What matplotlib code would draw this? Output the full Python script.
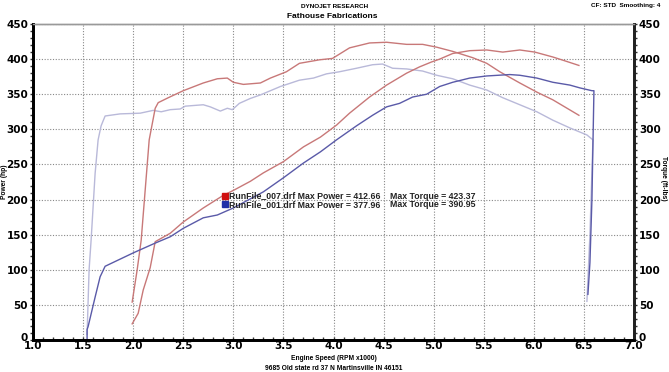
import numpy as np
import matplotlib
matplotlib.use('Agg')
import matplotlib.pyplot as plt
import matplotlib.transforms as mtransforms
from matplotlib.ticker import MultipleLocator

# RunFile_007 (red) power and torque vs engine speed (RPM x1000)
red_pwr_rpm = [1.99, 2.05, 2.10, 2.17, 2.22, 2.37, 2.50, 2.70, 2.90, 3.00, 3.17, 3.30, 3.50, 3.70,
               3.87, 4.03, 4.16, 4.36, 4.53, 4.73, 4.86, 4.98, 5.06, 5.19, 5.36, 5.53, 5.69,
               5.86, 6.01, 6.19, 6.30, 6.45]
red_pwr_hp = [23, 38, 71, 103, 140, 152, 168, 188, 206, 213, 226, 238, 254, 275,
              289, 306, 323, 346, 363, 380, 389, 396, 400, 408, 412, 413, 410,
              413, 410, 403, 398, 391]
red_trq_rpm = [1.99, 2.04, 2.08, 2.16, 2.22, 2.25, 2.35, 2.50, 2.70, 2.84, 2.94, 3.00, 3.10, 3.27,
               3.37, 3.53, 3.66, 3.86, 3.99, 4.16, 4.36, 4.53, 4.73, 4.89, 5.03, 5.19, 5.39,
               5.53, 5.66, 5.86, 6.03, 6.19, 6.45]
red_trq_ftlb = [54, 100, 142, 285, 330, 338, 345, 355, 366, 372, 373, 367, 364, 366,
                373, 382, 394, 399, 401, 416, 423, 424, 421, 421, 417, 411, 402,
                394, 382, 366, 353, 342, 320]

# RunFile_001 (blue) power and torque
blu_pwr_rpm = [1.54, 1.54, 1.55, 1.62, 1.67, 1.72, 2.00, 2.22, 2.37, 2.50, 2.70, 2.84, 3.00, 3.30,
               3.50, 3.70, 3.87, 4.03, 4.23, 4.39, 4.53, 4.66, 4.79, 4.93, 5.06, 5.19, 5.36,
               5.53, 5.76, 5.86, 6.03, 6.19, 6.36, 6.46, 6.58, 6.60, 6.58, 6.56, 6.54]
blu_pwr_hp = [1, 15, 19, 61, 90, 105, 124, 138, 147, 159, 174, 178, 188, 211,
              231, 252, 268, 285, 305, 320, 332, 337, 346, 350, 361, 367, 373,
              376, 378, 377, 373, 367, 363, 359, 355, 355, 200, 110, 65]
blu_trq_rpm = [1.54, 1.56, 1.58, 1.62, 1.65, 1.68, 1.72, 1.87, 2.07, 2.20, 2.28, 2.37, 2.47, 2.52,
               2.70, 2.77, 2.87, 2.94, 2.99, 3.06, 3.17, 3.27, 3.47, 3.66, 3.80, 3.93, 4.06,
               4.23, 4.39, 4.49, 4.59, 4.73, 4.89, 5.03, 5.19, 5.36, 5.53, 5.69, 5.86, 6.03,
               6.19, 6.36, 6.53, 6.59, 6.56, 6.53]
blu_trq_ftlb = [8, 100, 142, 237, 285, 305, 319, 322, 323, 327, 325, 328, 329, 333,
                335, 332, 326, 330, 328, 337, 344, 349, 361, 370, 373, 379, 382,
                387, 392, 393, 387, 386, 383, 377, 372, 363, 356, 345, 335, 325,
                313, 302, 292, 285, 150, 55]

x_ticks = [1.0, 1.5, 2.0, 2.5, 3.0, 3.5, 4.0, 4.5, 5.0, 5.5, 6.0, 6.5, 7.0]
y_ticks = [0, 50, 100, 150, 200, 250, 300, 350, 400, 450]

fig = plt.figure(figsize=(6.69, 3.72), dpi=100)
ax = fig.add_axes([33 / 669, 32 / 372, 601 / 669, 316 / 372])

ax.plot(blu_trq_rpm, blu_trq_ftlb, color='#b9b9d9', lw=1.0)
ax.plot(red_trq_rpm, red_trq_ftlb, color='#c87878', lw=1.0)
ax.plot(red_pwr_rpm, red_pwr_hp, color='#c87878', lw=1.0)
ax.plot(blu_pwr_rpm, blu_pwr_hp, color='#5a5aa8', lw=1.0)

tick_font = dict(fontsize=7.5, fontweight='bold')
ax.set_xlim(1.0, 7.0)
ax.set_ylim(0, 450)
ax.set_xticks(x_ticks)
ax.set_xticklabels(['%.1f' % v for v in x_ticks], **tick_font)
ax.set_yticks(y_ticks)
ax.set_yticklabels([str(v) for v in y_ticks], **tick_font)
ax.xaxis.set_minor_locator(MultipleLocator(0.1))
ax.yaxis.set_minor_locator(MultipleLocator(10))
ax.tick_params(axis='y', which='both', direction='out', length=2.5, width=1, color='#333333', pad=1)
ax.tick_params(axis='x', which='both', direction='in', length=2.5, width=1, color='#333333', pad=1)
ax.grid(True, which='major', color='#888888', ls=(0, (1, 1.5)), lw=0.8)

# right hand torque axis, same scale
ax2 = ax.twinx()
ax2.set_ylim(0, 450)
ax2.set_yticks(y_ticks)
ax2.set_yticklabels([str(v) for v in y_ticks], **tick_font)
ax2.yaxis.set_minor_locator(MultipleLocator(10))
ax2.tick_params(which='both', direction='out', length=2.5, width=1, color='#333333', pad=1)

# lift the "0" labels a little so they sit just above the rpm labels
lift = mtransforms.ScaledTranslation(0, 3 / 100, fig.dpi_scale_trans)
for lbl in (ax.get_yticklabels()[0], ax2.get_yticklabels()[0]):
    lbl.set_transform(lbl.get_transform() + lift)

for a in (ax, ax2):
    a.spines['left'].set_linewidth(2)
    a.spines['bottom'].set_linewidth(2)
    a.spines['right'].set_linewidth(2)
    a.spines['right'].set_color('#222222')
    a.spines['top'].set_color('#999999')
    a.spines['top'].set_linewidth(1)

small = dict(family='Liberation Sans', fontweight='bold', ha='center', va='center')
fig.text(5 / 669, 1 - 182 / 372, 'Power (hp)', fontsize=4.8, rotation=90, **small)
fig.text(664 / 669, 1 - 178 / 372, 'Torque (ft-lbs)', fontsize=4.8, rotation=-90, **small)

# legend block
leg_font = dict(fontsize=6.3, fontweight='bold', family='Liberation Sans',
                va='center', ha='left', color='#222222')
ax.plot([2.92], [205], marker='s', ms=4.5, color='#d01010', ls='none')
ax.plot([2.92], [193], marker='s', ms=4.5, color='#2030a8', ls='none')
ax.text(2.96, 205, 'RunFile_007.drf Max Power = 412.66', **leg_font)
ax.text(2.96, 193, 'RunFile_001.drf Max Power = 377.96', **leg_font)
ax.text(4.56, 205, 'Max Torque = 423.37', **leg_font)
ax.text(4.56, 193, 'Max Torque = 390.95', **leg_font)

fig.text(335 / 669, 1 - 6 / 372, 'DYNOJET RESEARCH', fontsize=4.6, **small)
fig.text(332 / 669, 1 - 16 / 372, 'Fathouse Fabrications', fontsize=6, **small)
fig.text(660 / 669, 1 - 6 / 372, 'CF: STD  Smoothing: 4', fontsize=4.6,
         family='Liberation Sans', fontweight='bold', ha='right', va='center')
fig.text(334 / 669, 1 - 358 / 372, 'Engine Speed (RPM x1000)', fontsize=4.8, **small)
fig.text(334 / 669, 1 - 368 / 372, '9685 Old state rd 37 N Martinsville IN 46151',
         fontsize=4.8, **small)

fig.savefig('out.png', dpi=100)
